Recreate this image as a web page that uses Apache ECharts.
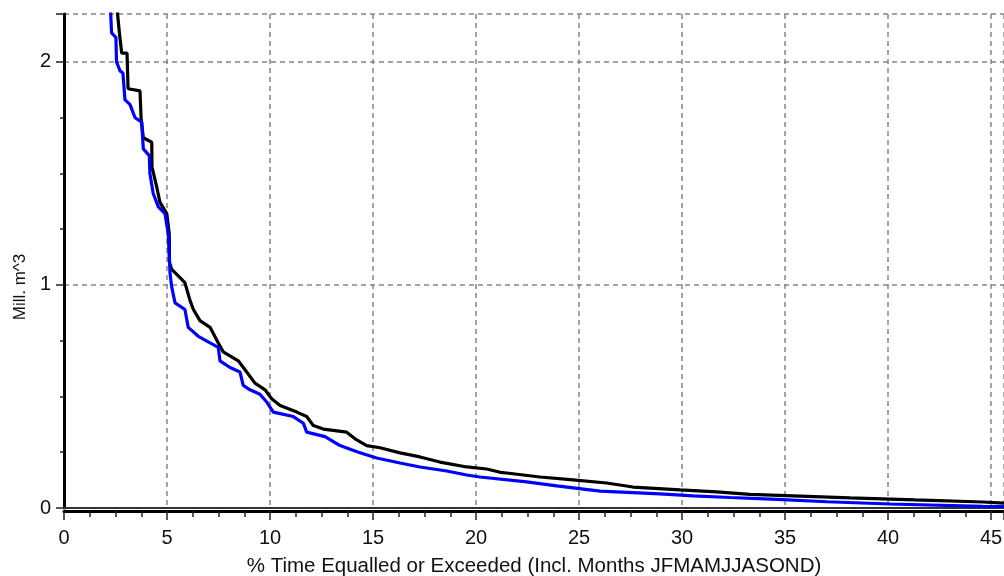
<!DOCTYPE html>
<html>
<head>
<meta charset="utf-8">
<script src="https://cdn.jsdelivr.net/npm/echarts@6/dist/echarts.min.js"></script>
<style>
html,body{margin:0;padding:0;background:#fff;}
#chart{width:1004px;height:576px;}
</style>
</head>
<body>
<div id="chart"></div>
<script>
// % time equalled or exceeded vs. volume (Mill. m^3)
const blackX = [2.55,2.60,2.69,2.80,3.06,3.11,3.69,3.74,3.85,4.26,4.27,4.50,4.66,4.99,5.11,5.12,5.23,5.87,6.12,6.28,6.60,7.09,7.49,7.73,8.46,8.87,9.27,9.76,10.08,10.49,11.30,11.78,12.10,12.59,13.72,14.13,14.69,15.34,16.31,17.28,18.25,19.55,20.52,21.17,21.49,23.11,24.71,26.34,27.62,29.90,31.68,33.30,35.39,38.16,41.31,44.61,45.63];
const blackY = [2.30,2.215,2.13,2.04,2.04,1.88,1.87,1.75,1.66,1.64,1.53,1.44,1.37,1.32,1.23,1.10,1.07,1.01,0.93,0.89,0.84,0.81,0.74,0.70,0.66,0.61,0.56,0.53,0.49,0.46,0.43,0.41,0.37,0.354,0.34,0.31,0.28,0.27,0.247,0.229,0.206,0.184,0.175,0.160,0.157,0.139,0.126,0.112,0.094,0.081,0.072,0.061,0.054,0.045,0.036,0.027,0.022];
const blueX = [2.26,2.27,2.31,2.52,2.55,2.72,2.86,2.96,3.20,3.45,3.77,3.85,4.14,4.17,4.33,4.58,4.90,5.06,5.15,5.23,5.39,5.87,6.03,6.52,7.09,7.49,7.57,8.06,8.54,8.70,9.03,9.51,9.84,10.16,11.13,11.62,11.78,12.67,13.40,14.29,15.18,16.31,17.28,18.58,19.55,20.19,22.46,23.92,26.02,28.93,30.53,32.33,34.61,37.04,40.10,44.61,45.63];
const blueY = [2.30,2.21,2.13,2.11,2.00,1.96,1.95,1.83,1.81,1.75,1.73,1.61,1.58,1.50,1.41,1.35,1.32,1.23,1.05,0.99,0.92,0.89,0.81,0.77,0.74,0.72,0.66,0.63,0.61,0.55,0.53,0.51,0.475,0.43,0.41,0.38,0.34,0.32,0.28,0.25,0.224,0.202,0.184,0.166,0.148,0.139,0.117,0.099,0.076,0.063,0.054,0.047,0.039,0.028,0.018,0.007,0.006];
const xTickStep = 5;
const yTickStep = 1;
const xName = '% Time Equalled or Exceeded (Incl. Months JFMAMJJASOND)';
const yName = 'Mill. m^3';

const toPairs = (xs, ys) => xs.map((x, i) => [x, ys[i]]);
const FONT = "'Liberation Sans', Arial, sans-serif";
const XMAX = 45.63, YMAX = 2.215;

const chart = echarts.init(document.getElementById('chart'), null, {renderer: 'canvas'});
chart.setOption({
  animation: false,
  backgroundColor: '#fff',
  grid: {left: 64, right: 0, top: 14, bottom: 68, containLabel: false, outerBoundsMode: 'none'},
  xAxis: [{
    type: 'value', min: 0, max: XMAX, interval: xTickStep, offset: 3,
    name: xName, nameLocation: 'middle', nameGap: 45,
    nameTextStyle: {fontFamily: FONT, fontSize: 20.5, color: '#111'},
    axisLine: {show: true, onZero: false, lineStyle: {color: '#000', width: 3}},
    axisTick: {show: true, length: 9, lineStyle: {color: '#222', width: 1.5}},
    minorTick: {show: true, splitNumber: 4, length: 6, lineStyle: {color: '#222', width: 1.5}},
    axisLabel: {fontFamily: FONT, fontSize: 20, color: '#111', margin: 17,
      showMaxLabel: false,
      formatter: v => (Math.abs(v / xTickStep - Math.round(v / xTickStep)) < 1e-6 ? String(Math.round(v)) : '')},
    splitLine: {show: true, lineStyle: {color: '#858585', width: 1.5, type: [5, 4]}}
  }, {
    type: 'value', position: 'top', min: 0, max: XMAX,
    axisLine: {show: true, lineStyle: {color: '#333', width: 2}},
    axisTick: {show: false}, axisLabel: {show: false}, splitLine: {show: false}
  }],
  yAxis: {
    type: 'value', min: 0, max: YMAX, interval: yTickStep,
    name: yName, nameLocation: 'middle', nameGap: 20, nameRotate: 90,
    nameTextStyle: {fontFamily: FONT, fontSize: 17, color: '#111', padding: [0, 52, 0, 0]},
    axisLine: {show: true, onZero: false, lineStyle: {color: '#000', width: 3}},
    axisTick: {show: true, length: 8, lineStyle: {color: '#222', width: 1.5}},
    minorTick: {show: true, splitNumber: 4, length: 4, lineStyle: {color: '#222', width: 1.5}},
    axisLabel: {fontFamily: FONT, fontSize: 20, color: '#111', margin: 13,
      showMaxLabel: false,
      formatter: v => (Math.abs(v - Math.round(v)) < 1e-6 ? String(Math.round(v)) : '')},
    splitLine: {show: true, lineStyle: {color: '#858585', width: 1.5, type: [5, 4]}}
  },
  series: [{
    type: 'line', showSymbol: false, clip: true,
    data: toPairs(blackX, blackY),
    lineStyle: {color: '#000', width: 3.2}, itemStyle: {color: '#000'}, z: 3
  }, {
    type: 'line', showSymbol: false, clip: true,
    data: toPairs(blueX, blueY),
    lineStyle: {color: '#0000ff', width: 3.2}, itemStyle: {color: '#0000ff'}, z: 4
  }]
});
</script>
</body>
</html>
